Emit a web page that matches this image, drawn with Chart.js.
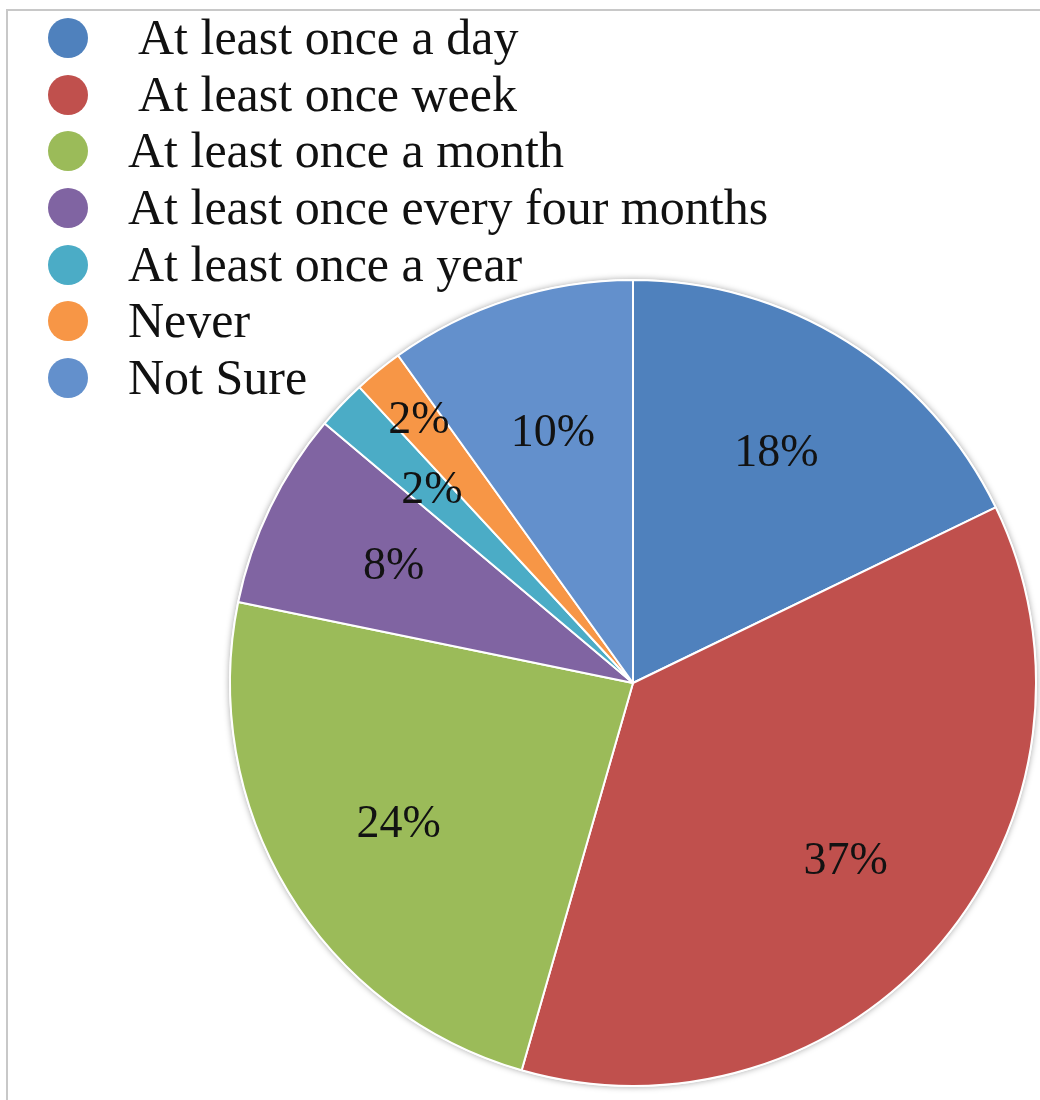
<!DOCTYPE html>
<html>
<head>
<meta charset="utf-8">
<script src="https://cdn.jsdelivr.net/npm/chart.js@4"></script>
<style>
  body { margin: 0; background: #fff; }
  #wrap { position: relative; width: 1040px; height: 1100px; overflow: hidden; }
  #frame { position: absolute; left: 6px; top: 9px; width: 1100px; height: 1100px; border: 2px solid #c8c8c8; box-sizing: border-box; }
  #myChart { position: absolute; left: 0; top: 0; }
  #legend { position: absolute; left: 0; top: 10px; font-family: "Liberation Serif", serif; font-size: 50px; color: #111; }
  #legend .row { position: relative; height: 56.7px; }
  #legend .dot { position: absolute; left: 48px; top: 8px; width: 40px; height: 40px; border-radius: 50%; }
  #legend .txt { position: absolute; left: 128px; top: -1px; line-height: 56px; white-space: nowrap; }
</style>
</head>
<body>
<div id="wrap">
  <div id="frame"></div>
  <canvas id="myChart" width="1040" height="1100"></canvas>
  <div id="legend"></div>
</div>
<script>
// chart data
let labels = ["At least once a day", "At least once week", "At least once a month",
  "At least once every four months", "At least once a year", "Never", "Not Sure"];
let measures = [18, 37, 24, 8, 2, 2, 10];
let colors = ['#4f81bd', '#c0504d', '#9bbb59', '#8064a2', '#4bacc6', '#f79646', '#6390cc'];

// where each % label sits, as fraction of radius
let labelRadius = [0.67, 0.69, 0.68, 0.66, 0.69, 0.84, 0.65];
let legendIndent = [10, 10, 0, 0, 0, 0, 0];

// html legend
let legend = document.getElementById("legend");
labels.forEach(function (lab, i) {
    let row = document.createElement("div");
    row.className = "row";
    row.innerHTML = '<span class="dot" style="background:' + colors[i] + '"></span>' +
        '<span class="txt" style="left:' + (128 + legendIndent[i]) + 'px">' + lab + '</span>';
    legend.appendChild(row);
});

// soft grey edge round the pie
const pieShadow = {
    id: 'pieShadow',
    beforeDatasetsDraw(chart) {
        let arc = chart.getDatasetMeta(0).data[0];
        if (!arc) return;
        let c = chart.ctx;
        c.save();
        c.beginPath();
        c.arc(arc.x, arc.y, arc.outerRadius + 1, 0, Math.PI * 2);
        c.fillStyle = '#fff';
        c.shadowColor = 'rgba(0,0,0,0.35)';
        c.shadowBlur = 6;
        c.fill();
        c.restore();
    }
};

const pctLabels = {
    id: 'pctLabels',
    afterDatasetsDraw(chart) {
        let c = chart.ctx;
        let meta = chart.getDatasetMeta(0);
        c.save();
        c.font = '46px "Liberation Serif"';
        c.fillStyle = '#121212';
        c.textAlign = 'center';
        c.textBaseline = 'middle';
        meta.data.forEach(function (arc, i) {
            let p = arc.getProps(['x', 'y', 'startAngle', 'endAngle', 'outerRadius'], true);
            let mid = (p.startAngle + p.endAngle) / 2;
            let r = p.outerRadius * labelRadius[i];
            c.fillText(measures[i] + '%', p.x + Math.cos(mid) * r, p.y + Math.sin(mid) * r);
        });
        c.restore();
    }
};

var ctx = document.getElementById('myChart').getContext('2d');
var chart = new Chart(ctx, {
    type: 'pie',
    data: {
        labels: labels,
        datasets: [{
            data: measures,
            backgroundColor: colors,
            borderColor: '#ffffff',
            borderWidth: 2
        }]
    },
    options: {
        responsive: false,
        animation: false,
        layout: { padding: { left: 228, right: 2, top: 279, bottom: 13 } },
        plugins: {
            legend: { display: false },
            tooltip: { enabled: false }
        }
    },
    plugins: [pieShadow, pctLabels]
});
</script>
</body>
</html>
